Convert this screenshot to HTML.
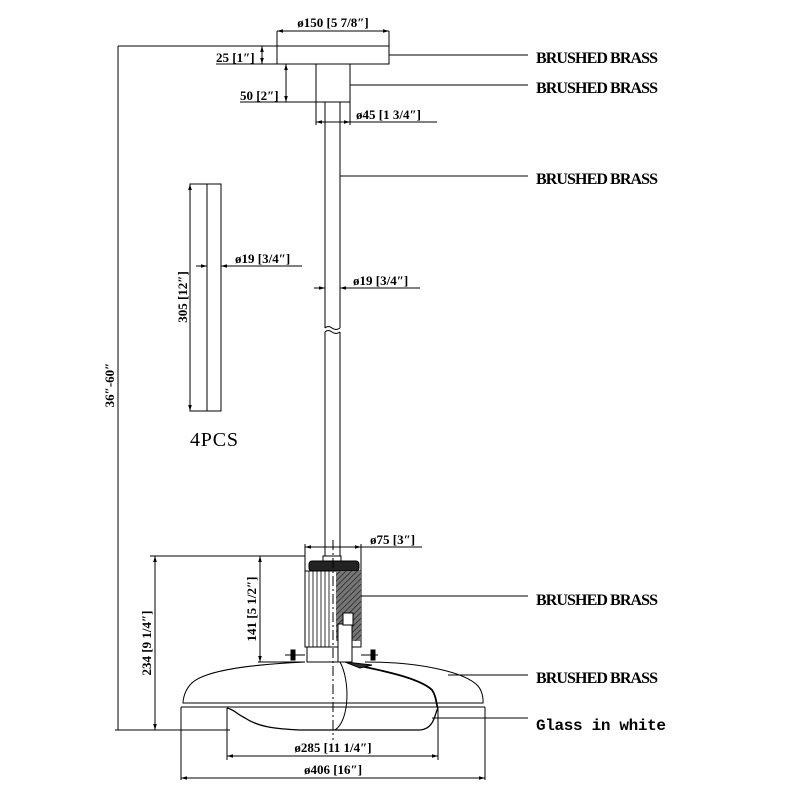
<!DOCTYPE html>
<html><head><meta charset="utf-8"><style>
html,body{margin:0;padding:0;background:#fff;}
svg{display:block}
.l{font-family:"Liberation Serif",serif;font-size:16px;font-weight:bold;}
.d{font-family:"Liberation Serif",serif;font-size:13px;font-weight:bold;}
</style></head><body>
<svg width="800" height="800" viewBox="0 0 800 800" xmlns="http://www.w3.org/2000/svg">
<defs>
<marker id="a" viewBox="0 0 10 10" refX="10" refY="5" markerWidth="6" markerHeight="6" orient="auto-start-reverse"><path d="M0,2 L10,5 L0,8 z" fill="#000"/></marker>
<pattern id="h" width="4" height="4" patternUnits="userSpaceOnUse" patternTransform="rotate(45)"><rect width="4" height="4" fill="#777"/><line x1="0" y1="0" x2="0" y2="4" stroke="#222" stroke-width="1.5"/></pattern>
</defs>
<g stroke="#000" stroke-width="1" fill="none">
<rect x="277" y="46" width="112" height="18"/>
<line x1="277" y1="31" x2="389" y2="31" marker-start="url(#a)" marker-end="url(#a)"/>
<line x1="277" y1="31" x2="277" y2="46"/><line x1="389" y1="31" x2="389" y2="46"/>
<rect x="316" y="64" width="34" height="38"/>
<line x1="325" y1="102" x2="325" y2="328"/><line x1="340" y1="102" x2="340" y2="328"/>
<path d="M325,328 q3,-3 7,0 t8,0 M325,332 q3,-3 7,0 t8,0"/>
<line x1="325" y1="332" x2="325" y2="556"/><line x1="340" y1="332" x2="340" y2="556"/>
<line x1="118" y1="46" x2="277" y2="46"/>
<line x1="118" y1="46" x2="118" y2="730"/>
<line x1="115" y1="730" x2="230" y2="730"/>
<line x1="262" y1="46" x2="262" y2="64" marker-start="url(#a)" marker-end="url(#a)"/>
<line x1="216" y1="64" x2="277" y2="64"/>
<line x1="286" y1="64" x2="286" y2="102" marker-start="url(#a)" marker-end="url(#a)"/>
<line x1="240" y1="102" x2="316" y2="102"/>
<line x1="316" y1="102" x2="316" y2="125"/><line x1="350" y1="102" x2="350" y2="125"/>
<line x1="316" y1="122" x2="350" y2="122" marker-start="url(#a)" marker-end="url(#a)"/>
<line x1="350" y1="122" x2="437" y2="122"/>
<line x1="314" y1="288" x2="325" y2="288" marker-end="url(#a)"/>
<line x1="420" y1="288" x2="340" y2="288" marker-end="url(#a)"/>
<rect x="190" y="184" width="31" height="227"/>
<line x1="207" y1="184" x2="207" y2="411"/>
<line x1="190" y1="184" x2="190" y2="411" marker-start="url(#a)" marker-end="url(#a)"/>
<line x1="196" y1="266" x2="207" y2="266" marker-end="url(#a)"/>
<line x1="302" y1="266" x2="221" y2="266" marker-end="url(#a)"/>
<line x1="389" y1="55" x2="528" y2="55"/>
<line x1="350" y1="85" x2="528" y2="85"/>
<line x1="340" y1="176" x2="528" y2="176"/>
<line x1="361" y1="596" x2="528" y2="596"/>
<line x1="448" y1="675" x2="528" y2="675"/>
<line x1="432" y1="718" x2="528" y2="718"/>
<line x1="305" y1="544" x2="305" y2="572"/><line x1="361" y1="544" x2="361" y2="572"/>
<line x1="305" y1="547" x2="361" y2="547" marker-start="url(#a)" marker-end="url(#a)"/>
<line x1="361" y1="547" x2="422" y2="547"/>
<line x1="150" y1="556" x2="305" y2="556"/>
<line x1="155" y1="556" x2="155" y2="730" marker-start="url(#a)" marker-end="url(#a)"/>
<line x1="260" y1="556" x2="260" y2="662" marker-start="url(#a)" marker-end="url(#a)"/>
<line x1="258" y1="662" x2="305" y2="662"/>
<rect x="323" y="556" width="18" height="5"/>
<rect x="309" y="561" width="50" height="10" rx="3" fill="#222"/>
<rect x="305" y="571" width="56" height="76"/>
<rect x="336" y="571" width="25" height="70" fill="url(#h)" stroke="none"/>
<g stroke-width="0.8"><line x1="309" y1="571" x2="309" y2="647"/><line x1="313" y1="571" x2="313" y2="647"/><line x1="317" y1="571" x2="317" y2="647"/><line x1="321" y1="571" x2="321" y2="647"/><line x1="325" y1="571" x2="325" y2="647"/><line x1="329" y1="571" x2="329" y2="647"/></g>
<rect x="338" y="624" width="14" height="38" fill="#fff"/>
<rect x="343" y="613" width="10" height="12" fill="#fff"/>
<rect x="307" y="647" width="31" height="15" fill="#fff"/>
<line x1="285" y1="655" x2="305" y2="655"/><rect x="291" y="650" width="4" height="10" fill="#000"/>
<line x1="361" y1="655" x2="378" y2="655"/><rect x="371" y="650" width="4" height="10" fill="#000"/>
<line x1="333" y1="540" x2="333" y2="740" stroke-dasharray="10,3,2,3"/>
<path d="M305,662 C240,665 200,672 190,685 C183,693 183,703 183,703 L483,703 C483,703 484,693 478,686 C465,672 420,662 365,662"/>
<line x1="181" y1="707" x2="485" y2="707"/>
<line x1="181" y1="707" x2="181" y2="780"/><line x1="485" y1="707" x2="485" y2="780"/>
<path d="M227,708 C235,710 235,713 245,718 C260,728 280,729 300,730 L420,730 C435,729 435,712 438,708" stroke-width="1.3"/>
<path d="M355,665 C380,670 420,678 432,690 C437,697 436,705 438,708" stroke-width="1.8"/>
<path d="M340,662 C350,680 350,720 335,730"/>
<path d="M345,662 L372,665 L360,668 Z" fill="#333"/>
<line x1="227" y1="708" x2="227" y2="760"/><line x1="438" y1="708" x2="438" y2="760"/>
<line x1="227" y1="756" x2="438" y2="756" marker-start="url(#a)" marker-end="url(#a)"/>
<line x1="181" y1="778" x2="485" y2="778" marker-start="url(#a)" marker-end="url(#a)"/>
</g>
<g fill="#000">
<text class="d" x="333" y="27" text-anchor="middle">ø150 [5 7/8″]</text>
<text class="d" x="216" y="62">25 [1″]</text>
<text class="d" x="240" y="100">50 [2″]</text>
<text class="d" x="356" y="119">ø45 [1 3/4″]</text>
<text class="d" x="353" y="285">ø19 [3/4″]</text>
<text class="d" x="235" y="263">ø19 [3/4″]</text>
<text class="d" transform="translate(187,297) rotate(-90)" text-anchor="middle">305 [12″]</text>
<text class="d" transform="translate(114,385) rotate(-90)" text-anchor="middle">36″-60″</text>
<text class="d" transform="translate(151,643) rotate(-90)" text-anchor="middle">234 [9 1/4″]</text>
<text class="d" transform="translate(256,609) rotate(-90)" text-anchor="middle">141 [5 1/2″]</text>
<text class="d" x="370" y="544">ø75 [3″]</text>
<text class="d" x="333" y="752" text-anchor="middle">ø285 [11 1/4″]</text>
<text class="d" x="333" y="774" text-anchor="middle">ø406 [16″]</text>
<text x="190" y="446" style="font-family:'Liberation Serif',serif;font-size:20px" textLength="48">4PCS</text>
<text class="l" x="536" y="63" textLength="122">BRUSHED BRASS</text>
<text class="l" x="536" y="93" textLength="122">BRUSHED BRASS</text>
<text class="l" x="536" y="184" textLength="122">BRUSHED BRASS</text>
<text class="l" x="536" y="605" textLength="122">BRUSHED BRASS</text>
<text class="l" x="536" y="683" textLength="122">BRUSHED BRASS</text>
<text x="536" y="730" style="font-family:'Liberation Mono',monospace;font-size:16px;font-weight:bold" textLength="130">Glass in white</text>
</g>
</svg>
</body></html>
